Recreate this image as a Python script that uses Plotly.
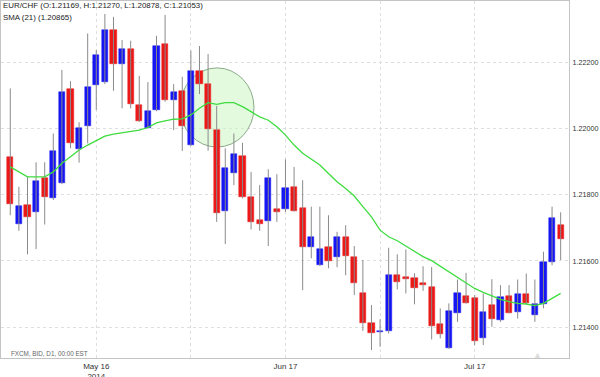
import pandas as pd
import plotly.graph_objects as go

# ---- data ----
dates = [d.strftime("%Y-%m-%d") for d in pd.bdate_range("2014-05-02", "2014-07-31")]

opens = [1.21913, 1.21711, 1.21769, 1.21747, 1.21851, 1.21789, 1.21834, 1.22119, 1.21938, 1.22007,
         1.22131, 1.22139, 1.22297, 1.22195, 1.22240, 1.22071, 1.22003, 1.22056, 1.22254, 1.22086,
         1.22114, 1.21950, 1.22174, 1.22134, 1.21995, 1.21751, 1.21866, 1.21918, 1.21794, 1.21723,
         1.21721, 1.21756, 1.21756, 1.21824, 1.21759, 1.21643, 1.21587, 1.21641, 1.21611, 1.21671,
         1.21613, 1.21502, 1.21413, 1.21386, 1.21389, 1.21559, 1.21552, 1.21550, 1.21534, 1.21522,
         1.21411, 1.21338, 1.21444, 1.21494, 1.21487, 1.21368, 1.21467, 1.21423, 1.21495, 1.21446,
         1.21500, 1.21436, 1.21470, 1.21597, 1.21708]
highs = [1.22121, 1.21824, 1.21854, 1.21898, 1.21898, 1.21985, 1.22177, 1.22143, 1.22019, 1.22287,
         1.22237, 1.22346, 1.22337, 1.22267, 1.22265, 1.22159, 1.22140, 1.22280, 1.22343, 1.22134,
         1.22156, 1.22235, 1.22249, 1.22225, 1.22068, 1.21940, 1.21985, 1.21957, 1.21869, 1.21829,
         1.21877, 1.21862, 1.21907, 1.21884, 1.21844, 1.21764, 1.21764, 1.21738, 1.21688, 1.21708,
         1.21645, 1.21603, 1.21467, 1.21424, 1.21640, 1.21620, 1.21635, 1.21563, 1.21584, 1.21582,
         1.21457, 1.21472, 1.21544, 1.21564, 1.21497, 1.21502, 1.21545, 1.21527, 1.21527, 1.21544,
         1.21562, 1.21544, 1.21628, 1.21764, 1.21747]
lows = [1.21738, 1.21691, 1.21620, 1.21636, 1.21710, 1.21784, 1.21832, 1.21940, 1.21897, 1.21955,
        1.22056, 1.22134, 1.22114, 1.22061, 1.22061, 1.22020, 1.22001, 1.22052, 1.22081, 1.21995,
        1.21932, 1.21947, 1.22104, 1.21933, 1.21718, 1.21651, 1.21829, 1.21789, 1.21695, 1.21691,
        1.21645, 1.21718, 1.21748, 1.21749, 1.21512, 1.21608, 1.21585, 1.21578, 1.21581, 1.21557,
        1.21497, 1.21389, 1.21331, 1.21341, 1.21381, 1.21514, 1.21502, 1.21469, 1.21510, 1.21363,
        1.21366, 1.21335, 1.21416, 1.21471, 1.21346, 1.21346, 1.21401, 1.21416, 1.21442, 1.21426,
        1.21470, 1.21416, 1.21457, 1.21587, 1.21603]
closes = [1.21773, 1.21766, 1.21733, 1.21841, 1.21794, 1.21932, 1.22109, 1.21955, 1.22002, 1.22124,
          1.22222, 1.22297, 1.22195, 1.22240, 1.22073, 1.22023, 1.22053, 1.22250, 1.22086, 1.22111,
          1.22007, 1.22174, 1.22133, 1.21997, 1.21745, 1.21880, 1.21922, 1.21794, 1.21718, 1.21713,
          1.21851, 1.21748, 1.21821, 1.21751, 1.21643, 1.21671, 1.21635, 1.21600, 1.21671, 1.21616,
          1.21532, 1.21414, 1.21383, 1.21389, 1.21559, 1.21537, 1.21547, 1.21517, 1.21527, 1.21404,
          1.21379, 1.21448, 1.21502, 1.21474, 1.21359, 1.21446, 1.21426, 1.21490, 1.21444, 1.21499,
          1.21472, 1.21469, 1.21596, 1.21729, 1.21666]
sma21 = [1.21884, 1.21869, 1.21854, 1.21854, 1.21854, 1.21869, 1.21895, 1.21915, 1.21935, 1.21950,
         1.21963, 1.21977, 1.21983, 1.21987, 1.21990, 1.21995, 1.22003, 1.22017, 1.22023, 1.22028,
         1.22029, 1.22041, 1.22061, 1.22078, 1.22073, 1.22078, 1.22078, 1.22066, 1.22051, 1.22035,
         1.22025, 1.22005, 1.21980, 1.21950, 1.21925, 1.21907, 1.21890, 1.21864, 1.21839, 1.21819,
         1.21796, 1.21764, 1.21733, 1.21693, 1.21673, 1.21661, 1.21645, 1.21628, 1.21613, 1.21601,
         1.21584, 1.21567, 1.21552, 1.21534, 1.21517, 1.21505, 1.21494, 1.21484, 1.21477, 1.21472,
         1.21470, 1.21465, 1.21472, 1.21487, 1.21502]

tick_dates = ["2014-05-16", "2014-06-02", "2014-06-17", "2014-07-02", "2014-07-17"]
tick_text = ["May 16<br>2014", "", "Jun 17", "", "Jul 17"]
price_ticks = [1.214, 1.216, 1.218, 1.220, 1.222]

legend_line1 = "EUR/CHF (O:1.21169, H:1.21270, L:1.20878, C:1.21053)"
legend_line2 = "SMA (21) (1.20865)"
source_text = "FXCM, BID, D1, 00:00 EST"

# ---- build ----
UP, DOWN = "#1616f5", "#ec1818"
FONT = "Arial, Liberation Sans, sans-serif"

wx, wy = [], []
for d, h, l in zip(dates, highs, lows):
    wx += [d, d, None]
    wy += [l, h, None]

base = [min(o, c) for o, c in zip(opens, closes)]
height = [max(abs(c - o), 0.00003) for o, c in zip(opens, closes)]
colors = [UP if c >= o else DOWN for o, c in zip(opens, closes)]

fig = go.Figure()
fig.add_trace(go.Scatter(x=wx, y=wy, mode="lines", line=dict(color="#8a8a8a", width=1),
                         hoverinfo="skip", showlegend=False))
fig.add_trace(go.Bar(x=dates, y=height, base=base, width=0.72,
                     marker=dict(color=colors, line=dict(color=colors, width=0.5)),
                     showlegend=False))
fig.add_trace(go.Scatter(x=dates, y=sma21, mode="lines",
                         line=dict(color="#3fdc3f", width=1.3), showlegend=False))

fig.add_shape(type="circle", xref="x", yref="y", x0=19.73, x1=28.34, y0=1.21944, y1=1.22183,
              fillcolor="rgba(205,245,195,0.55)", line=dict(color="rgba(110,150,110,0.8)", width=1),
              layer="between")

fig.add_annotation(xref="paper", yref="paper", x=0.0, y=0.986, xanchor="left", yanchor="middle",
                   text=legend_line1, showarrow=False, font=dict(family=FONT, size=7.9, color="#222"))
fig.add_annotation(xref="paper", yref="paper", x=0.0, y=0.954, xanchor="left", yanchor="middle",
                   text=legend_line2, showarrow=False, font=dict(family=FONT, size=7.9, color="#222"))
fig.add_annotation(xref="paper", yref="paper", x=0.014, y=0.0, xanchor="left", yanchor="bottom",
                   yshift=-1, text=source_text, showarrow=False,
                   font=dict(family=FONT, size=6.3, color="#666"))
fig.add_annotation(xref="paper", yref="paper", x=0.944, y=0.0, xanchor="center", yanchor="bottom",
                   yshift=-4, text="▲", showarrow=False, font=dict(family=FONT, size=9, color="#dddddd"))

fig.update_layout(
    width=600, height=377,
    margin=dict(l=1, r=31, t=1, b=19, autoexpand=False),
    paper_bgcolor="white", plot_bgcolor="white",
    bargap=0, showlegend=False, hovermode=False,
    font=dict(family=FONT, size=8, color="#333"),
)
fig.update_xaxes(type="category", range=[-1.08, 64.97], automargin=False,
                 tickmode="array", tickvals=tick_dates, ticktext=tick_text,
                 showgrid=True, gridcolor="#dedede", griddash="dot", gridwidth=1,
                 showline=True, linecolor="#c4c4c4", linewidth=1, mirror=True,
                 ticks="", ticklabelstandoff=0, tickfont=dict(size=8, color="#333"),
                 rangeslider=dict(visible=False))
fig.update_yaxes(side="right", range=[1.21307, 1.22385], automargin=False,
                 tickmode="array", tickvals=price_ticks, tickformat=".5f",
                 showgrid=True, gridcolor="#dedede", griddash="dot", gridwidth=1,
                 showline=True, linecolor="#c4c4c4", linewidth=1, mirror=True,
                 ticks="", ticklabelstandoff=1, zeroline=False,
                 tickfont=dict(size=7.2, color="#333"))

fig.write_html("out.html", config={"displayModeBar": False},
               post_script="document.body.style.margin='0';")
